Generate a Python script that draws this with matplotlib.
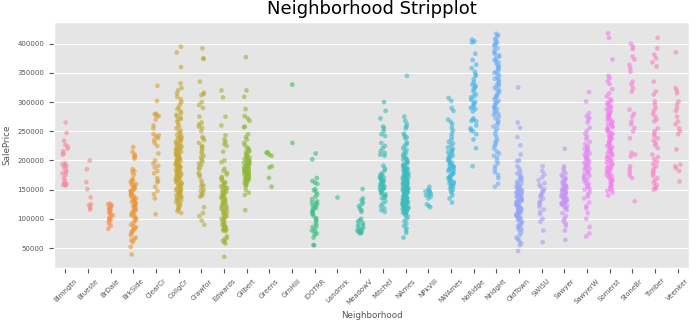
import numpy as np
import pandas as pd
import seaborn as sns
import matplotlib
matplotlib.use("Agg")
import matplotlib.pyplot as plt

# sale prices in thousands
neighborhoods = ["Blmngtn", "Blueste", "BrDale", "BrkSide", "ClearCr", "CollgCr", "Crawfor",
                 "Edwards", "Gilbert", "Greens", "GrnHill", "IDOTRR", "Landmrk", "MeadowV",
                 "Mitchel", "NAmes", "NPkVill", "NWAmes", "NoRidge", "NridgHt", "OldTown",
                 "SWISU", "Sawyer", "SawyerW", "Somerst", "StoneBr", "Timber", "Veenker"]

blmngtn = [265, 247, 234, 227, 224, 220, 216, 212, 210, 195, 193, 192, 190, 187, 183, 180,
           178, 175, 170, 166, 162, 160, 159, 158, 157]
blueste = [200, 185, 163, 151, 137, 125, 123, 119, 116]
brdale = [126, 125, 123, 122, 120, 118, 117, 115, 113, 110, 109, 106, 105, 102, 100, 98, 96,
          92, 88, 83]
brkside = [223, 215, 210, 208, 206, 203, 185, 182, 180, 175, 168, 166, 164, 162, 160, 158, 157,
           155, 153, 151, 150, 148, 147, 145, 143, 142, 140, 139, 137, 135, 134, 132, 130, 129,
           127, 125, 124, 122, 120, 119, 117, 115, 113, 112, 110, 108, 106, 104, 102, 100, 97,
           94, 90, 88, 86, 84, 82, 80, 78, 75, 72, 68, 65, 63, 60, 52, 39]
clearcr = [328, 302, 280, 279, 277, 276, 270, 260, 255, 245, 243, 241, 238, 235, 230, 225, 212,
           200, 195, 191, 188, 182, 178, 170, 165, 163, 155, 148, 142, 135, 108]
collgcr = [395, 385, 360, 332, 324, 320, 315, 309, 305, 300, 296, 291, 288, 284, 281, 278, 276,
           273, 271, 269, 266, 262, 258, 255, 251, 249, 246, 244, 241, 240, 238, 237, 235, 234,
           232, 230, 229, 228, 226, 225, 224, 222, 221, 220, 218, 217, 215, 214, 213, 212, 210,
           209, 208, 207, 206, 205, 204, 203, 202, 201, 200, 199, 198, 197, 196, 195, 194, 193,
           192, 191, 190, 189, 188, 187, 186, 185, 184, 183, 182, 181, 180, 179, 178, 177, 176,
           175, 174, 173, 172, 171, 170, 168, 167, 166, 165, 163, 162, 161, 160, 158, 157, 156,
           155, 153, 152, 150, 149, 148, 147, 145, 144, 143, 142, 140, 139, 138, 137, 135, 134,
           132, 131, 129, 127, 125, 123, 120, 118, 116, 113, 110]
crawfor = [392, 375, 374, 335, 316, 314, 312, 300, 295, 290, 275, 265, 262, 258, 256, 250, 240,
           238, 235, 230, 225, 223, 220, 216, 212, 208, 205, 201, 198, 195, 192, 188, 185, 178,
           176, 172, 165, 160, 157, 155, 150, 148, 145, 142, 140, 138, 120, 110, 105, 97, 90]
edwards = [320, 308, 275, 260, 243, 236, 232, 228, 225, 215, 200, 197, 186, 182, 179, 176, 172,
           170, 168, 165, 163, 161, 160, 158, 156, 155, 153, 152, 150, 149, 147, 146, 144, 143,
           141, 140, 138, 137, 135, 134, 132, 131, 129, 128, 126, 125, 123, 122, 120, 118, 117,
           115, 114, 112, 110, 108, 107, 105, 103, 101, 100, 98, 96, 94, 92, 90, 89, 87, 86, 85,
           84, 83, 82, 81, 80, 79, 70, 67, 65, 62, 60, 58, 35]
gilbert = [377, 320, 309, 288, 276, 272, 268, 258, 257, 245, 240, 236, 230, 226, 222, 220, 218,
           216, 214, 212, 210, 208, 206, 205, 203, 202, 200, 199, 198, 197, 196, 195, 194, 193,
           192, 191, 190, 189, 188, 187, 186, 185, 184, 183, 182, 181, 180, 179, 178, 177, 176,
           175, 174, 173, 172, 171, 170, 169, 168, 167, 166, 165, 164, 162, 160, 158, 156, 150,
           145, 141, 115]
greens = [214, 213, 210, 208, 190, 188, 170, 155]
grnhill = [330, 230]
idotrr = [212, 202, 170, 165, 162, 160, 151, 149, 146, 142, 138, 134, 130, 128, 127, 125, 123,
          121, 119, 117, 115, 112, 110, 108, 105, 101, 99, 96, 92, 88, 86, 83, 80, 78, 75, 73,
          68, 55, 55]
landmrk = [137]
meadowv = [151, 135, 132, 128, 125, 122, 118, 115, 112, 100, 98, 96, 93, 91, 89, 87, 85, 83,
           81, 80, 79, 78, 77, 76, 75]
mitchel = [300, 285, 272, 258, 255, 250, 245, 242, 230, 225, 221, 216, 213, 210, 208, 191, 186,
           183, 178, 176, 174, 172, 171, 170, 168, 167, 166, 165, 163, 162, 160, 159, 158, 156,
           155, 154, 152, 151, 150, 148, 146, 145, 143, 142, 140, 138, 136, 135, 130, 126, 122,
           118, 115, 112]
nrames = [345, 275, 268, 262, 258, 255, 246, 243, 240, 238, 231, 228, 225, 221, 218, 215, 212,
          210, 207, 205, 203, 201, 200, 198, 196, 195, 193, 192, 190, 189, 188, 187, 186, 185,
          184, 183, 182, 181, 180, 179, 178, 177, 176, 175, 174, 173, 172, 171, 170, 169, 168,
          167, 166, 165, 164, 163, 162, 161, 160, 159, 158, 157, 156, 155, 154, 153, 152, 151,
          150, 149, 148, 147, 146, 145, 144, 143, 142, 141, 140, 139, 138, 137, 136, 135, 134,
          133, 132, 131, 130, 129, 128, 127, 126, 125, 124, 123, 122, 121, 120, 119, 118, 117,
          116, 115, 114, 113, 112, 111, 110, 160, 155, 150, 145, 140, 135, 130, 125, 120, 158,
          152, 147, 142, 137, 132, 127, 122, 117, 108, 106, 104, 100, 96, 92, 88, 84, 80, 76, 68]
npkvill = [155, 150, 148, 147, 145, 143, 142, 140, 138, 135, 125, 122, 120]
nwames = [307, 302, 290, 285, 270, 266, 262, 256, 251, 246, 241, 236, 232, 229, 226, 222, 220,
          218, 216, 214, 212, 210, 208, 206, 204, 202, 200, 198, 196, 194, 192, 190, 189, 188,
          186, 185, 183, 182, 180, 178, 176, 175, 173, 171, 170, 168, 166, 165, 163, 161, 160,
          158, 156, 155, 152, 150, 147, 145, 140, 135, 128]
noridge = [407, 404, 402, 383, 372, 364, 358, 352, 347, 345, 339, 334, 330, 328, 325, 322, 318,
           313, 310, 308, 304, 300, 298, 296, 292, 290, 288, 284, 272, 270, 268, 267, 260, 255,
           252, 250, 245, 236, 221, 190]
nridght = [417, 415, 412, 408, 405, 402, 400, 398, 395, 392, 388, 385, 382, 380, 378, 375, 372,
           370, 368, 365, 362, 360, 358, 355, 352, 350, 348, 345, 342, 340, 338, 335, 332, 330,
           328, 325, 322, 320, 318, 315, 312, 310, 308, 305, 302, 300, 298, 295, 292, 290, 288,
           285, 282, 280, 278, 275, 272, 268, 265, 262, 258, 255, 250, 245, 240, 235, 232, 228,
           225, 220, 215, 212, 208, 205, 200, 195, 190, 185, 180, 175, 170, 160, 155]
oldtown = [325, 265, 256, 240, 226, 210, 200, 199, 190, 186, 181, 178, 175, 172, 170, 168, 166,
           164, 162, 160, 158, 156, 155, 153, 152, 150, 149, 148, 146, 145, 144, 143, 142, 140,
           139, 138, 137, 136, 135, 134, 133, 132, 131, 130, 129, 128, 127, 126, 125, 124, 123,
           122, 121, 120, 119, 118, 117, 116, 115, 114, 113, 112, 111, 110, 109, 108, 107, 106,
           105, 104, 103, 102, 101, 100, 98, 96, 94, 92, 90, 88, 86, 84, 82, 80, 76, 72, 68, 65,
           62, 58, 55, 45]
swisu = [190, 182, 176, 171, 166, 161, 158, 155, 151, 148, 145, 142, 140, 138, 135, 131, 128,
         125, 121, 116, 112, 108, 100, 95, 80, 60]
sawyer = [220, 190, 186, 182, 178, 175, 172, 170, 168, 166, 164, 162, 160, 158, 157, 156, 155,
          154, 153, 152, 151, 150, 149, 148, 147, 146, 145, 144, 143, 142, 141, 140, 139, 138,
          137, 136, 135, 134, 133, 132, 131, 130, 129, 128, 127, 126, 125, 124, 122, 120, 118,
          115, 110, 105, 100, 96, 92, 88, 80, 64]
sawyerw = [317, 301, 281, 276, 273, 270, 265, 256, 251, 246, 241, 237, 232, 228, 225, 222, 220,
           218, 216, 214, 212, 210, 208, 206, 204, 202, 200, 198, 196, 194, 192, 190, 188, 186,
           184, 182, 180, 178, 176, 174, 172, 170, 168, 165, 162, 160, 157, 155, 152, 150, 146,
           142, 138, 135, 128, 122, 118, 110, 100, 86, 75, 70]
somerst = [418, 410, 373, 345, 341, 336, 331, 322, 315, 310, 305, 302, 300, 297, 295, 292, 290,
           288, 285, 283, 281, 279, 277, 275, 273, 271, 269, 267, 265, 263, 261, 259, 257, 255,
           253, 251, 249, 247, 245, 243, 241, 239, 237, 235, 233, 231, 229, 227, 225, 223, 221,
           219, 217, 215, 213, 211, 209, 207, 205, 203, 201, 199, 197, 195, 193, 191, 189, 187,
           185, 183, 181, 179, 177, 175, 173, 171, 169, 167, 165, 163, 160, 157, 155, 152, 150,
           148, 145, 140]
stonebr = [400, 395, 391, 378, 373, 364, 358, 352, 335, 330, 324, 318, 287, 280, 275, 267, 262,
           256, 250, 238, 213, 210, 207, 190, 185, 180, 175, 170, 130]
timber = [410, 392, 381, 375, 368, 361, 335, 318, 313, 301, 296, 290, 285, 280, 275, 270, 267,
          255, 250, 246, 242, 238, 234, 230, 226, 221, 210, 206, 202, 198, 194, 190, 186, 182,
          178, 174, 170, 166, 162, 158, 155, 152, 150]
veenker = [385, 324, 320, 315, 301, 296, 290, 285, 275, 267, 262, 255, 250, 245, 219, 193, 190,
           187, 182, 164]

groups = [blmngtn, blueste, brdale, brkside, clearcr, collgcr, crawfor, edwards, gilbert, greens,
          grnhill, idotrr, landmrk, meadowv, mitchel, nrames, npkvill, nwames, noridge, nridght,
          oldtown, swisu, sawyer, sawyerw, somerst, stonebr, timber, veenker]

rows = []
for name, vals in zip(neighborhoods, groups):
    for v in vals:
        rows.append((name, v * 1000))
df = pd.DataFrame(rows, columns=["Neighborhood", "SalePrice"])

plt.style.use("ggplot")
np.random.seed(3)

fig = plt.figure(figsize=(7, 3.23), dpi=100)
ax = fig.add_axes([54 / 700, 1 - 268 / 323, 635 / 700, 246 / 323])
sns.stripplot(data=df, x="Neighborhood", y="SalePrice", hue="Neighborhood",
              order=neighborhoods, hue_order=neighborhoods,
              palette=sns.husl_palette(len(neighborhoods), l=.7),
              jitter=0.13, size=3.4, alpha=0.6, legend=False, ax=ax)
ax.xaxis.grid(False)
ax.set_title("Neighborhood Stripplot", fontsize=13, color="black")
ax.set_xlabel("Neighborhood", fontsize=6.3, color="#555555")
ax.set_ylabel("SalePrice", fontsize=6.3, color="#555555")
ax.tick_params(axis="both", labelsize=5, colors="#555555")
plt.setp(ax.get_xticklabels(), rotation=45)

fig.savefig("out.png", dpi=100)
